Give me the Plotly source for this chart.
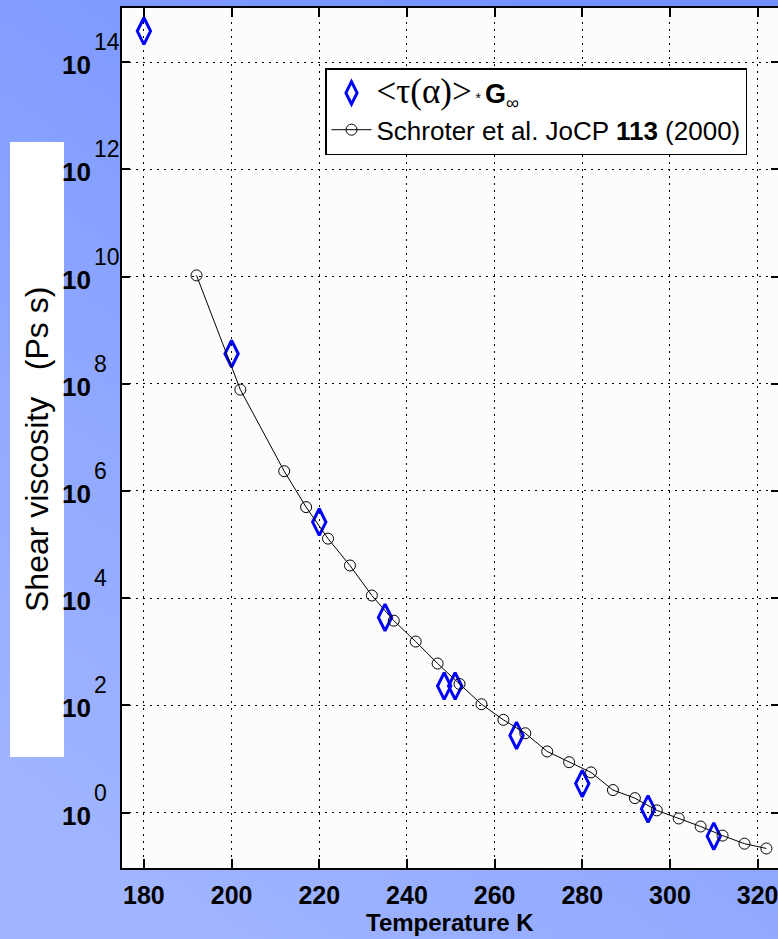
import base64
import plotly.graph_objects as go

# ---- data ----
temp_model = [180, 200, 220, 235, 248.5, 251, 265, 280, 295, 310]
eta_model = [3.8e14, 3.63e8, 2.63e5, 4.37e3, 229, 229, 27.5, 3.47, 1.17, 0.363]

temp_schroter = [192, 202, 212, 217, 222, 227, 232, 237, 242, 247, 252, 257, 262,
                 267, 272, 277, 282, 287, 292, 297, 302, 307, 312, 317, 322]
eta_schroter = [1.05e10, 7.76e7, 2.34e6, 5.0e5, 1.29e5, 4.07e4, 1.12e4, 3.80e3,
                1.55e3, 603, 251, 105, 53.7, 30.2, 13.8, 8.71, 5.62, 2.63, 1.86,
                1.10, 0.776, 0.550, 0.372, 0.263, 0.214]

x_ticks = [180, 200, 220, 240, 260, 280, 300, 320]
x_tick_labels = ["180", "200", "220", "240", "260", "280", "300", "320"]
y_exponents = [0, 2, 4, 6, 8, 10, 12, 14]
y_tick_base = "10"
y_tick_exps = ["0", "2", "4", "6", "8", "10", "12", "14"]

label_model = ('<span style="font-family:Liberation Serif;font-size:35px">&lt;τ(α)&gt;</span>'
               '<span style="font-size:14px"> * </span>'
               '<span style="font-size:27px"><b>G</b></span><sub>∞</sub>')
label_schroter = 'Schroter et al. JoCP <b>113</b> (2000)'

# ---- geometry ----
W, H = 778, 939
L, R, T, B = 122, 0, 8, 71
PW, PH = W - L - R, H - T - B


def px(xp):
    return (xp - L) / PW


def py(yp):
    return 1 - (yp - T) / PH


FONT = "Liberation Sans, Arial, sans-serif"

fig = go.Figure()
fig.add_trace(go.Scatter(
    x=temp_model, y=eta_model, mode="markers", name=label_model,
    marker=dict(symbol="diamond-tall-open", size=19, color="#0000ff",
                line=dict(color="#0000ff", width=3)),
))
fig.add_trace(go.Scatter(
    x=temp_schroter, y=eta_schroter, mode="lines+markers", name=label_schroter,
    line=dict(color="black", width=1),
    marker=dict(symbol="circle-open", size=11, color="black",
                line=dict(color="black", width=1)),
))
# dummy trace for the right-hand tick marks
fig.add_trace(go.Scatter(x=[None], y=[None], yaxis="y2", showlegend=False,
                         hoverinfo="skip"))

# background gradient
svg = ('<svg xmlns="http://www.w3.org/2000/svg" width="778" height="939">'
       '<defs><linearGradient id="g" x1="0.8" y1="0" x2="0.2" y2="1">'
       '<stop offset="0" stop-color="#7190ff"/><stop offset="1" stop-color="#a2b6ff"/>'
       '</linearGradient></defs><rect width="778" height="939" fill="url(#g)"/></svg>')
src = "data:image/svg+xml;base64," + base64.b64encode(svg.encode()).decode()

yr = [-1.034, 15.01]

fig.update_layout(
    width=W, height=H,
    margin=dict(l=L, r=R, t=T, b=B, pad=0),
    paper_bgcolor="#88a2ff",
    plot_bgcolor="#fcfcfc",
    showlegend=True,
    images=[dict(source=src, xref="paper", yref="paper", x=px(0), y=py(0),
                 sizex=W / PW, sizey=H / PH, xanchor="left", yanchor="top",
                 sizing="stretch", layer="below")],
    legend=dict(x=px(325), y=py(68), xanchor="left", yanchor="top",
                bgcolor="white", bordercolor="black", borderwidth=1.5,
                font=dict(family=FONT, size=26, color="black"),
                itemwidth=40, tracegroupgap=4),
    xaxis=dict(range=[175, 324.65], tickvals=x_ticks, ticktext=x_tick_labels,
               tickfont=dict(family=FONT, size=25, color="black", weight="bold"),
               ticks="inside", ticklen=9, tickcolor="black", tickwidth=1.5,
               showline=True, linecolor="black", linewidth=1.5, mirror="ticks",
               showgrid=True, gridcolor="black", gridwidth=1, griddash="2px,5px",
               zeroline=False, ticklabelstandoff=4, ticklabeloverflow="allow"),
    yaxis=dict(type="log", range=yr, tickvals=[10 ** e for e in y_exponents],
               showticklabels=False,
               ticks="inside", ticklen=8, tickcolor="black", tickwidth=1.5,
               showline=True, linecolor="black", linewidth=1.5,
               showgrid=True, gridcolor="black", gridwidth=1, griddash="2px,5px",
               zeroline=False),
    yaxis2=dict(type="log", range=yr, overlaying="y", side="right", anchor="x",
                tickvals=[10 ** e for e in y_exponents], showticklabels=False,
                ticks="inside", ticklen=7, tickcolor="black", tickwidth=1.5,
                showline=False, showgrid=False, zeroline=False),
)

shapes = [
    dict(type="rect", xref="paper", yref="paper", x0=0, x1=1, y0=0, y1=1,
         fillcolor="#fcfcfc", line=dict(width=0), layer="below"),
    dict(type="rect", xref="paper", yref="paper", x0=px(10), x1=px(64),
         y0=py(757), y1=py(142), fillcolor="white", line=dict(width=0), layer="below"),
]
fig.update_layout(shapes=shapes)

ann = []
for e, lab in zip(y_exponents, y_tick_exps):
    ann.append(dict(xref="paper", yref="y", x=0, y=e, text="<b>" + y_tick_base + "</b>",
                    xanchor="right", yanchor="middle", xshift=-29, yshift=-3,
                    showarrow=False,
                    font=dict(family=FONT, size=26, color="black")))
    ann.append(dict(xref="paper", yref="y", x=0, y=e, text=lab,
                    xanchor="left", yanchor="middle", xshift=-30, yshift=20,
                    showarrow=False,
                    font=dict(family=FONT, size=23, color="black")))
ann.append(dict(xref="paper", yref="paper", x=px(450), y=py(923), text="<b>Temperature K</b>",
                xanchor="center", yanchor="middle", showarrow=False,
                font=dict(family=FONT, size=24, color="black")))
ann.append(dict(xref="paper", yref="paper", x=px(37), y=py(450),
                text="Shear viscosity&nbsp;&nbsp;&nbsp;(Ps s)", textangle=-90,
                xanchor="center", yanchor="middle", showarrow=False,
                font=dict(family=FONT, size=32, color="black")))
fig.update_layout(annotations=ann)

fig.write_html("out.html", config={"displayModeBar": False},
               post_script="document.body.style.margin='0px';document.body.style.overflow='hidden';")
